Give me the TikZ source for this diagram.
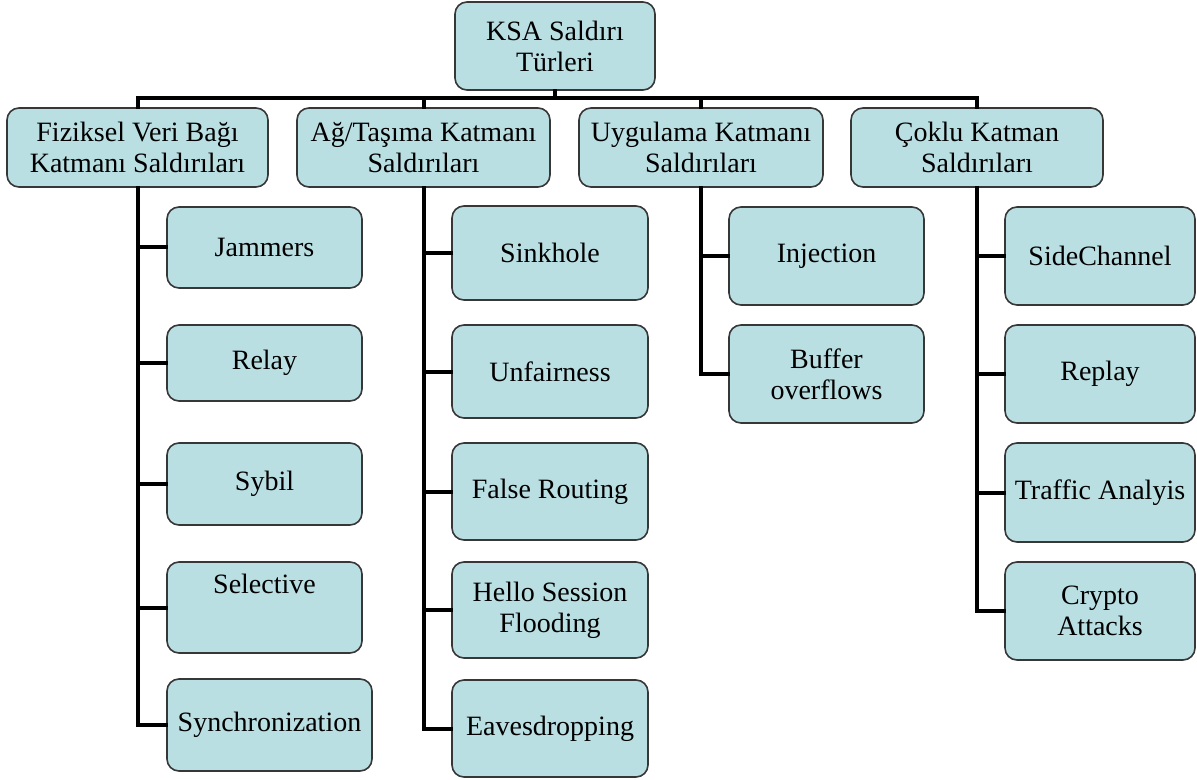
\documentclass[tikz,border=0pt]{standalone}
\usepackage{fontspec}
\setmainfont{Liberation Serif}
\usepackage{tikz}
\usetikzlibrary{positioning,calc}
\definecolor{ksafill}{RGB}{186,223,227}
\definecolor{ksaedge}{RGB}{55,55,55}
\tikzset{
  ksafont/.style={font=\fontsize{14}{15.5}\selectfont},
  ksabox/.style={draw=ksaedge, line width=0.8pt, fill=ksafill, rounded corners=6pt, align=center, inner sep=2pt},
  ksaleaf/.style={ksabox, minimum width=97.5pt, minimum height=47pt},
  ksaconn/.style={line width=2pt, line cap=rect},
}

\begin{document}
\begin{tikzpicture}[x=0.5pt, y=-0.5pt, ksafont]
		\useasboundingbox (0,0) rectangle (1197,780);

		% Root and layer boxes
		\node[ksabox, minimum width=100pt, minimum height=44pt] (root) at (555,46) {KSA Saldırı\\Türleri};
		\node[ksabox, minimum width=130.5pt, minimum height=39.5pt] (fiz) at (137.5,147.5) {Fiziksel Veri Bağı\\Katmanı Saldırıları};
		\node[ksabox, minimum width=126.5pt, minimum height=39.5pt] (ag) at (423.5,147.5) {Ağ/Taşıma Katmanı\\Saldırıları};
		\node[ksabox, minimum width=122pt, minimum height=39.5pt] (uyg) at (701,147.5) {Uygulama Katmanı\\Saldırıları};
		\node[ksabox, minimum width=126pt, minimum height=39.5pt] (cok) at (977,147.5) {Çoklu Katman\\Saldırıları};

		% Physical / data link attacks
		\node[ksaleaf, minimum height=40.5pt] (jam) at (264.5,247.5) {Jammers};
		\node[ksaleaf, minimum height=38pt] (rel) at (264.5,363) {Relay};
		\node[ksaleaf, minimum height=41pt] (syb) at (264.5,484) {Sybil};
		\node[ksaleaf, minimum height=45.5pt] (sel) at (264.5,607.5) {Selective\\[8.5pt]~};
		\node[ksaleaf, minimum width=102.5pt, minimum height=46pt] (syn) at (269.5,725) {Synchronization};

		% Network / transport attacks
		\node[ksaleaf, minimum width=98pt] (sink) at (550,253) {Sinkhole};
		\node[ksaleaf, minimum width=98pt, minimum height=46.5pt] (unf) at (550,371.5) {Unfairness};
		\node[ksaleaf, minimum width=98pt, minimum height=48.5pt] (fal) at (550,491.5) {False Routing};
		\node[ksaleaf, minimum width=98pt, minimum height=48pt] (hel) at (550,610) {Hello Session\\Flooding};
		\node[ksaleaf, minimum width=98pt, minimum height=48.5pt] (eav) at (550,728.5) {Eavesdropping};

		% Application attacks
		\node[ksaleaf, minimum height=49pt] (inj) at (826.5,256) {Injection};
		\node[ksaleaf, minimum height=49pt] (buf) at (826.5,374) {Buffer\\overflows};

		% Multi layer attacks
		\node[ksaleaf, minimum width=95pt, minimum height=49pt] (side) at (1100,256) {SideChannel};
		\node[ksaleaf, minimum width=95pt, minimum height=49pt] (rep) at (1100,374) {Replay};
		\node[ksaleaf, minimum width=95pt, minimum height=49.5pt] (tra) at (1100,492.5) {Traffic Analyis};
		\node[ksaleaf, minimum width=95pt, minimum height=49pt] (cry) at (1100,611) {Crypto\\Attacks};

		% Connectors
		\coordinate (bar) at (555,98);
		\draw[ksaconn] (root.south) -- (bar);
		\draw[ksaconn] (fiz.north) -- (fiz.north |- bar) -- (cok.north |- bar) -- (cok.north);
		\draw[ksaconn] (ag.north) -- (ag.north |- bar);
		\draw[ksaconn] (uyg.north) -- (uyg.north |- bar);
		\foreach \leaf in {jam,rel,syb,sel,syn}
			\draw[ksaconn] (fiz.south) |- (\leaf.west);
		\foreach \leaf in {sink,unf,fal,hel,eav}
			\draw[ksaconn] (ag.south) |- (\leaf.west);
		\foreach \leaf in {inj,buf}
			\draw[ksaconn] (uyg.south) |- (\leaf.west);
		\foreach \leaf in {side,rep,tra,cry}
			\draw[ksaconn] (cok.south) |- (\leaf.west);
	\end{tikzpicture}
\end{document}
